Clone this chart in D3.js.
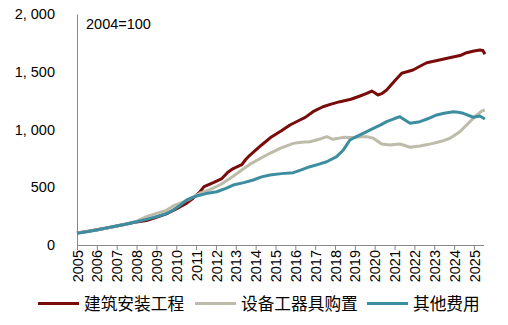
<!DOCTYPE html>
<html><head><meta charset="utf-8">
<script src="https://cdn.jsdelivr.net/npm/d3@7"></script>
<style>
html,body{margin:0;padding:0;background:#fff;}
svg{display:block;}
</style></head>
<body>
<svg id="c" width="508" height="325"></svg>
<script>
// ---- data ----
const seriesNames = ["建筑安装工程", "设备工器具购置", "其他费用"];
const seriesColors = ["#7A0B0B", "#BDBBA9", "#3D8DA0"];
const yTicks = [0, 500, 1000, 1500, 2000];
const xYears = [2005,2006,2007,2008,2009,2010,2011,2012,2013,2014,2015,2016,2017,2018,2019,2020,2021,2022,2023,2024,2025];
const note = "2004=100";

const redT = [2005.0,2005.5,2006.0,2006.5,2007.0,2007.5,2008.0,2008.5,2009.0,2009.5,2010.0,2010.5,2010.8,2011.2,2011.4,2011.87,2012.3,2012.6,2012.87,2013.3,2013.5,2013.72,2014.3,2014.81,2015.3,2015.73,2016.23,2016.5,2016.89,2017.39,2017.8,2018.25,2018.8,2019.26,2019.6,2019.85,2020.0,2020.16,2020.35,2020.6,2021.0,2021.36,2021.93,2022.3,2022.62,2023.2,2023.94,2024.3,2024.63,2025.0,2025.3,2025.45,2025.55];
const redV = [104,118,132,148,165,182,200,212,240,270,312,360,398,461,505,540,575,630,662,695,740,779,866,938,990,1039,1082,1105,1154,1197,1220,1241,1262,1290,1312,1333,1318,1299,1310,1342,1420,1487,1515,1550,1578,1600,1628,1640,1665,1680,1688,1684,1651];

const grayT = [2005.0,2005.5,2006.0,2006.5,2007.0,2007.5,2008.0,2008.5,2009.0,2009.5,2009.85,2010.3,2010.7,2011.2,2011.7,2012.2,2012.87,2013.3,2013.72,2014.3,2014.72,2015.23,2015.9,2016.3,2016.74,2017.2,2017.58,2017.91,2018.42,2018.9,2019.3,2019.59,2019.93,2020.35,2020.77,2021.27,2021.78,2022.28,2022.95,2023.4,2023.79,2024.29,2024.8,2025.14,2025.4,2025.55];
const grayV = [104,116,130,146,165,182,205,245,274,300,338,370,400,448,480,520,595,650,700,755,794,837,880,890,894,915,938,915,932,930,938,938,924,874,866,874,846,857,880,900,924,981,1068,1126,1160,1169];

const tealT = [2005.0,2005.5,2006.0,2006.5,2007.0,2007.5,2008.0,2008.5,2009.0,2009.5,2009.85,2010.2,2010.53,2010.8,2011.03,2011.5,2012.04,2012.5,2012.87,2013.4,2013.88,2014.3,2014.72,2015.3,2015.9,2016.3,2016.74,2017.2,2017.58,2018.08,2018.42,2018.75,2019.1,2019.42,2019.93,2020.3,2020.6,2021.0,2021.27,2021.5,2021.78,2022.28,2022.7,2023.12,2023.5,2023.96,2024.2,2024.46,2024.97,2025.3,2025.55];
const tealV = [102,115,130,148,165,182,202,222,245,270,303,345,390,410,424,445,461,490,519,540,563,590,606,618,626,650,678,700,721,765,823,909,940,967,1010,1040,1068,1095,1111,1085,1054,1068,1095,1126,1140,1154,1150,1140,1106,1117,1091];

const seriesT = [redT, grayT, tealT];
const seriesV = [redV, grayV, tealV];

// ---- drawing ----
const svg = d3.select("#c");
const font = "'Liberation Sans', Arial, sans-serif";
const cjk = "'Noto Sans CJK SC', 'Noto Sans', sans-serif";
const x = d3.scaleLinear().domain([2005, 2025.48]).range([77, 483.5]);
const y = d3.scaleLinear().domain([0, 2000]).range([245, 14]);

// y axis (line only, labels left)
const yAxis = d3.axisLeft(y).tickValues(yTicks).tickSize(0).tickPadding(22)
  .tickFormat(v => d3.format(",")(v).replace(",", ", "));
const gy = svg.append("g").attr("transform", "translate(77,0)").call(yAxis);
gy.select(".domain").attr("stroke", "#888").attr("stroke-width", 1);
gy.selectAll("text").attr("font-family", font).attr("font-size", "14.5px").attr("fill", "#000");

// x axis
const xAxis = d3.axisBottom(x).tickValues(xYears).tickSize(5).tickSizeOuter(0).tickPadding(4)
  .tickFormat(d3.format("d"));
const gx = svg.append("g").attr("transform", "translate(0,245)").call(xAxis);
gx.select(".domain").attr("stroke", "#888").attr("stroke-width", 1);
gx.selectAll(".tick line").attr("stroke", "#888");
gx.selectAll("text").attr("font-family", font).attr("font-size", "14.5px").attr("fill", "#000")
  .attr("transform", "rotate(-90)").attr("text-anchor", "end")
  .attr("x", -5).attr("y", 0).attr("dy", "0.35em");

// note
svg.append("text").attr("x", 86).attr("y", 28.5).attr("font-family", font)
  .attr("font-size", "14.5px").text(note);

// lines (drawn in series order: red, gray, teal on top)
const line = d3.line().x(d => x(d[0])).y(d => y(d[1]));
[0, 1, 2].forEach(i => {
  const pts = seriesT[i].map((t, k) => [t, seriesV[i][k]]);
  svg.append("path").datum(pts).attr("d", line).attr("fill", "none")
    .attr("stroke", seriesColors[i]).attr("stroke-width", 3).attr("stroke-linejoin", "round");
});

// legend
const legX = [38, 195, 367];
const leg = svg.append("g");
seriesNames.forEach((n, i) => {
  leg.append("line").attr("x1", legX[i]).attr("x2", legX[i] + 41).attr("y1", 303.5).attr("y2", 303.5)
    .attr("stroke", seriesColors[i]).attr("stroke-width", 3);
  leg.append("text").attr("x", legX[i] + 46).attr("y", 304).attr("dy", "0.36em")
    .attr("font-family", cjk).attr("font-size", "16.7px").attr("fill", "#000").text(n);
});
</script>
</body></html>
